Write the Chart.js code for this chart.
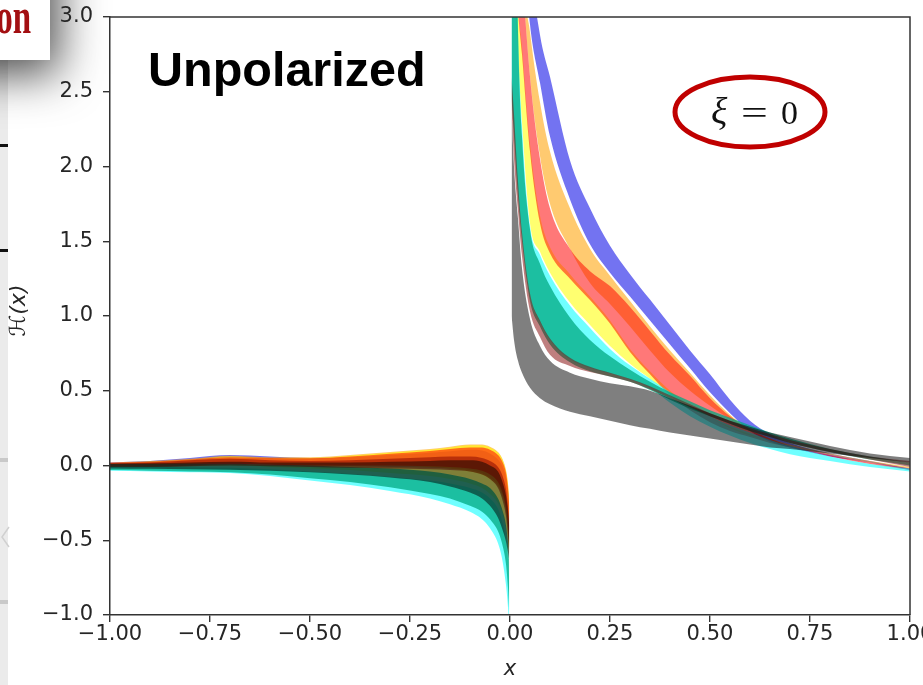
<!DOCTYPE html>
<html>
<head>
<meta charset="utf-8">
<script src="https://cdn.jsdelivr.net/npm/chart.js@4.4.1/dist/chart.umd.min.js"></script>
<style>
  html, body { margin: 0; padding: 0; background: #fff; overflow: hidden; }
  canvas { display: block; }
</style>
</head>
<body>
<canvas id="c" width="923" height="685"></canvas>
<script>
// x sample points of the two branches (x < 0 and x > 0)
const xLeft  = [-1.0, -0.9, -0.8, -0.7, -0.6, -0.5, -0.4, -0.3, -0.2, -0.15, -0.1, -0.07, -0.05, -0.03, -0.02, -0.01, -0.005, -0.002];
const xRight = [0.004, 0.01, 0.02, 0.03, 0.05, 0.075, 0.1, 0.15, 0.2, 0.25, 0.3, 0.35, 0.4, 0.45, 0.5, 0.55, 0.6, 0.65, 0.7, 0.8, 0.9, 1.0];

// lower / upper edges of each uncertainty band, x < 0
const blueLeftLo   = [-0.01, -0.01, 0.0, 0.01, 0.005, 0.0, -0.005, -0.01, -0.015, -0.02, -0.03, -0.05, -0.08, -0.13, -0.19, -0.3, -0.42, -0.55];
const blueLeftHi   = [0.02, 0.03, 0.05, 0.07, 0.06, 0.05, 0.055, 0.07, 0.085, 0.095, 0.105, 0.1, 0.08, 0.04, 0.0, -0.08, -0.17, -0.28];
const orangeLeftLo = [-0.005, 0.0, 0.01, 0.02, 0.01, 0.0, 0.0, 0.0, -0.01, -0.02, -0.04, -0.06, -0.09, -0.14, -0.2, -0.3, -0.42, -0.55];
const orangeLeftHi = [0.02, 0.03, 0.045, 0.065, 0.055, 0.055, 0.07, 0.09, 0.11, 0.125, 0.14, 0.14, 0.125, 0.09, 0.05, -0.03, -0.12, -0.22];
const yellowLeftLo = [-0.01, -0.01, -0.005, 0.0, -0.01, -0.02, -0.03, -0.05, -0.07, -0.09, -0.12, -0.15, -0.19, -0.25, -0.31, -0.42, -0.52, -0.62];
const yellowLeftHi = [0.015, 0.025, 0.04, 0.06, 0.05, 0.05, 0.065, 0.085, 0.105, 0.12, 0.135, 0.135, 0.12, 0.085, 0.045, -0.04, -0.13, -0.25];
const redLeftLo    = [-0.005, -0.005, 0.0, 0.01, 0.005, 0.0, 0.0, 0.0, -0.005, -0.01, -0.02, -0.035, -0.06, -0.11, -0.17, -0.28, -0.4, -0.52];
const redLeftHi    = [0.018, 0.025, 0.04, 0.055, 0.05, 0.048, 0.06, 0.078, 0.097, 0.11, 0.12, 0.12, 0.105, 0.07, 0.03, -0.05, -0.15, -0.26];
const cyanLeftLo   = [-0.035, -0.04, -0.045, -0.05, -0.07, -0.1, -0.13, -0.17, -0.22, -0.26, -0.31, -0.36, -0.42, -0.52, -0.62, -0.8, -0.95, -1.1];
const cyanLeftHi   = [-0.005, -0.008, -0.012, -0.015, -0.025, -0.04, -0.055, -0.075, -0.1, -0.12, -0.15, -0.18, -0.22, -0.29, -0.37, -0.5, -0.64, -0.78];
const tealLeftLo   = [-0.03, -0.035, -0.04, -0.045, -0.06, -0.085, -0.11, -0.145, -0.19, -0.22, -0.27, -0.31, -0.36, -0.44, -0.52, -0.66, -0.82, -0.98];
const tealLeftHi   = [0.01, 0.01, 0.012, 0.012, 0.005, 0.0, -0.01, -0.02, -0.04, -0.06, -0.09, -0.12, -0.15, -0.22, -0.29, -0.4, -0.52, -0.65];
const brownLeftLo  = [-0.01, -0.01, -0.005, 0.0, -0.005, -0.01, -0.015, -0.02, -0.025, -0.03, -0.04, -0.06, -0.09, -0.15, -0.22, -0.34, -0.47, -0.58];
const brownLeftHi  = [0.015, 0.02, 0.035, 0.045, 0.035, 0.03, 0.035, 0.045, 0.055, 0.06, 0.06, 0.05, 0.03, -0.01, -0.06, -0.16, -0.28, -0.4];
const blackLeftLo  = [-0.02, -0.022, -0.025, -0.028, -0.035, -0.045, -0.06, -0.08, -0.11, -0.14, -0.18, -0.22, -0.27, -0.35, -0.42, -0.51, -0.58, -0.63];
const blackLeftHi  = [0.012, 0.015, 0.02, 0.025, 0.02, 0.02, 0.02, 0.025, 0.03, 0.035, 0.035, 0.025, 0.0, -0.04, -0.1, -0.2, -0.3, -0.4];

// lower / upper edges of each uncertainty band, x > 0
const blueRightLo   = [9, 6.5, 4.5, 3.6, 2.95, 2.56, 2.2, 1.78, 1.48, 1.29, 1.13, 0.97, 0.81, 0.65, 0.49, 0.35, 0.23, 0.16, 0.12, 0.06, 0.02, -0.03];
const blueRightHi   = [10, 7.5, 5.3, 4.3, 3.4, 2.88, 2.6, 2.04, 1.72, 1.47, 1.28, 1.11, 0.94, 0.77, 0.61, 0.44, 0.3, 0.21, 0.15, 0.08, 0.03, -0.02];
const orangeRightLo = [7, 5, 3.7, 3.3, 2.6, 2.07, 1.75, 1.45, 1.22, 1.08, 0.93, 0.77, 0.62, 0.5, 0.4, 0.31, 0.23, 0.17, 0.13, 0.07, 0.02, -0.02];
const orangeRightHi = [8, 6, 4.4, 3.4, 2.9, 2.43, 2.1, 1.72, 1.45, 1.27, 1.1, 0.93, 0.77, 0.62, 0.47, 0.34, 0.24, 0.18, 0.14, 0.08, 0.03, -0.01];
const yellowRightLo = [5, 3.4, 2.75, 2.3, 1.62, 1.43, 1.29, 1.09, 0.94, 0.8, 0.68, 0.58, 0.48, 0.39, 0.32, 0.26, 0.21, 0.16, 0.12, 0.06, 0.01, -0.02];
const yellowRightHi = [6, 4, 3.1, 2.8, 2.15, 1.67, 1.46, 1.28, 1.13, 0.97, 0.78, 0.63, 0.5, 0.4, 0.32, 0.25, 0.2, 0.16, 0.12, 0.06, 0.01, -0.02];
const redRightLo    = [5, 3.6, 3.05, 2.75, 2.1, 1.62, 1.42, 1.25, 1.107, 0.95, 0.76, 0.61, 0.47, 0.37, 0.29, 0.23, 0.19, 0.15, 0.12, 0.06, 0.01, -0.03];
const redRightHi    = [7, 5, 3.7, 3.3, 2.6, 2.05, 1.72, 1.45, 1.3, 1.2, 1.06, 0.9, 0.74, 0.6, 0.45, 0.33, 0.24, 0.18, 0.13, 0.07, 0.02, -0.02];
const cyanRightLo   = [2.5, 2.25, 1.85, 1.55, 1.14, 0.96, 0.84, 0.71, 0.65, 0.615, 0.575, 0.52, 0.42, 0.33, 0.26, 0.2, 0.15, 0.11, 0.075, 0.03, -0.01, -0.04];
const cyanRightHi   = [8, 4.6, 2.95, 2.27, 1.6, 1.41, 1.27, 1.07, 0.92, 0.78, 0.67, 0.58, 0.49, 0.4, 0.33, 0.27, 0.22, 0.17, 0.13, 0.06, 0.01, -0.02];
const tealRightLo   = [2.45, 2.2, 1.8, 1.5, 1.1, 0.93, 0.81, 0.69, 0.63, 0.595, 0.56, 0.505, 0.44, 0.38, 0.33, 0.28, 0.23, 0.19, 0.15, 0.09, 0.04, 0.0];
const tealRightHi   = [8, 4.5, 2.9, 2.2, 1.58, 1.35, 1.2, 0.99, 0.84, 0.73, 0.64, 0.56, 0.49, 0.43, 0.37, 0.32, 0.27, 0.22, 0.18, 0.11, 0.06, 0.02];
const brownRightLo  = [2.38, 2.05, 1.7, 1.4, 1.03, 0.86, 0.74, 0.665, 0.625, 0.595, 0.56, 0.51, 0.45, 0.39, 0.33, 0.28, 0.23, 0.19, 0.15, 0.09, 0.04, -0.01];
const brownRightHi  = [2.6, 2.35, 1.9, 1.56, 1.15, 0.97, 0.85, 0.72, 0.66, 0.62, 0.58, 0.53, 0.47, 0.41, 0.35, 0.3, 0.25, 0.21, 0.17, 0.11, 0.06, 0.03];
const blackRightLo  = [1.0, 0.84, 0.7, 0.62, 0.52, 0.45, 0.41, 0.36, 0.33, 0.3, 0.27, 0.245, 0.22, 0.2, 0.18, 0.16, 0.14, 0.12, 0.11, 0.08, 0.05, 0.02];
const blackRightHi  = [2.37, 2.0, 1.65, 1.32, 0.98, 0.8, 0.7, 0.62, 0.58, 0.55, 0.53, 0.5, 0.45, 0.4, 0.35, 0.3, 0.26, 0.22, 0.19, 0.13, 0.08, 0.05];

// axis ticks
const xTicks = [-1.0, -0.75, -0.5, -0.25, 0.0, 0.25, 0.5, 0.75, 1.0];
const yTicks = [-1.0, -0.5, 0.0, 0.5, 1.0, 1.5, 2.0, 2.5, 3.0];

// bands listed from bottom-most to top-most
const bands = [
  { name: 'blue',   color: 'rgba(0,0,230,0.55)',    left: [blueLeftLo, blueLeftHi],     right: [blueRightLo, blueRightHi] },
  { name: 'orange', color: 'rgba(255,160,0,0.56)',  left: [orangeLeftLo, orangeLeftHi], right: [orangeRightLo, orangeRightHi] },
  { name: 'yellow', color: 'rgba(255,255,0,0.56)',  left: [yellowLeftLo, yellowLeftHi], right: [yellowRightLo, yellowRightHi] },
  { name: 'red',    color: 'rgba(255,0,0,0.53)',    left: [redLeftLo, redLeftHi],       right: [redRightLo, redRightHi] },
  { name: 'cyan',   color: 'rgba(0,255,255,0.56)',  left: [cyanLeftLo, cyanLeftHi],     right: [cyanRightLo, cyanRightHi] },
  { name: 'teal',   color: 'rgba(0,170,130,0.75)',  left: [tealLeftLo, tealLeftHi],     right: [tealRightLo, tealRightHi] },
  { name: 'brown',  color: 'rgba(128,0,0,0.5)',     left: [brownLeftLo, brownLeftHi],   right: [brownRightLo, brownRightHi] },
  { name: 'black',  color: 'rgba(0,0,0,0.5)',       left: [blackLeftLo, blackLeftHi],   right: [blackRightLo, blackRightHi] }
];

const pts = (xs, ys) => xs.map((x, i) => ({ x: x, y: ys[i] }));
const minus = s => s.replace('-', '\u2212');

const datasets = [];
bands.forEach((b, k) => {
  const order = bands.length - k;
  [[xLeft, b.left], [xRight, b.right]].forEach(([xs, edges]) => {
    const common = {
      borderWidth: 0, borderColor: 'rgba(0,0,0,0)', pointRadius: 0, pointHoverRadius: 0,
      cubicInterpolationMode: 'monotone', order: order
    };
    datasets.push(Object.assign({ label: b.name + ' lo', data: pts(xs, edges[0]), fill: false }, common));
    datasets.push(Object.assign({ label: b.name + ' hi', data: pts(xs, edges[1]), fill: '-1', backgroundColor: b.color }, common));
  });
});

// edge of the neighbouring slide and the title box with its shadow
const slideEdge = {
  id: 'slideEdge',
  beforeDraw(chart) {
    const ctx = chart.ctx;
    ctx.save();
    ctx.fillStyle = '#fff';
    ctx.fillRect(0, 0, chart.width, chart.height);
    ctx.fillStyle = '#ebebeb';
    ctx.fillRect(0, 60, 8, chart.height - 60);
    ctx.fillStyle = '#111';
    ctx.fillRect(0, 144, 8, 3);
    ctx.fillRect(0, 249, 8, 3);
    ctx.fillStyle = '#c9c9c9';
    ctx.fillRect(0, 458, 8, 4);
    ctx.fillRect(0, 600, 8, 4);
    ctx.strokeStyle = '#d0d0d0';
    ctx.lineWidth = 1.5;
    ctx.beginPath();
    ctx.moveTo(9, 527); ctx.lineTo(2, 537); ctx.lineTo(9, 547);
    ctx.stroke();
    ctx.shadowColor = 'rgba(0,0,0,0.72)';
    ctx.shadowBlur = 46;
    ctx.shadowOffsetX = 8;
    ctx.shadowOffsetY = 14;
    ctx.fillStyle = '#fff';
    ctx.fillRect(-80, -80, 130, 140);
    ctx.shadowColor = 'rgba(0,0,0,0)';
    ctx.fillStyle = '#a30f12';
    ctx.font = 'bold 50px "Liberation Serif"';
    ctx.textAlign = 'right';
    ctx.textBaseline = 'alphabetic';
    ctx.translate(31, 33);
    ctx.scale(0.66, 1);
    ctx.fillText('on', 0, 0);
    ctx.restore();
  }
};

// remaining frame sides and the in-plot annotations
const annotations = {
  id: 'annotations',
  afterDatasetsDraw(chart) {
    const ctx = chart.ctx;
    const a = chart.chartArea;
    ctx.save();
    ctx.strokeStyle = '#333';
    ctx.lineWidth = 1.5;
    ctx.beginPath();
    ctx.moveTo(a.left, a.top); ctx.lineTo(a.right, a.top); ctx.lineTo(a.right, a.bottom);
    ctx.stroke();

    ctx.fillStyle = '#000';
    ctx.font = 'bold 48.5px "Liberation Sans"';
    ctx.textAlign = 'left';
    ctx.textBaseline = 'alphabetic';
    ctx.fillText('Unpolarized', 148, 86);

    ctx.strokeStyle = '#c00000';
    ctx.lineWidth = 5;
    ctx.beginPath();
    ctx.ellipse(750, 112, 75, 35, 0, 0, Math.PI * 2);
    ctx.stroke();

    ctx.fillStyle = '#111';
    ctx.font = 'italic 38px "Liberation Serif"';
    ctx.fillText('\u03BE', 711, 124);
    ctx.font = '34px "Liberation Serif"';
    ctx.fillText('0', 781, 124);
    ctx.translate(741, 124);
    ctx.scale(1.4, 1);
    ctx.fillText('=', 0, 0);
    ctx.restore();
  }
};

const tickFont = { family: '"DejaVu Sans"', size: 21 };

new Chart(document.getElementById('c'), {
  type: 'line',
  data: { datasets: datasets },
  plugins: [slideEdge, annotations],
  options: {
    responsive: false,
    animation: false,
    devicePixelRatio: 1,
    layout: { padding: { top: 17, right: 13, bottom: 0, left: 0 } },
    plugins: { legend: { display: false }, tooltip: { enabled: false } },
    elements: { line: { tension: 0 } },
    scales: {
      x: {
        type: 'linear', min: -1, max: 1,
        afterBuildTicks: s => { s.ticks = xTicks.map(v => ({ value: v })); },
        afterFit: s => { s.height = 70; s.paddingLeft = 0; s.paddingRight = 0; },
        ticks: { font: tickFont, color: '#262626', padding: 0, maxRotation: 0, autoSkip: false,
                 callback: v => minus(Number(v).toFixed(2)) },
        grid: { drawOnChartArea: false, drawTicks: true, tickLength: 7, color: '#333', lineWidth: 1.4 },
        border: { display: true, color: '#333', width: 1.5, z: 1 },
        title: { display: true, text: 'x', color: '#262626',
                 font: { family: '"DejaVu Sans"', size: 21, style: 'italic' }, padding: { top: 0, bottom: 3 } }
      },
      y: {
        type: 'linear', min: -1, max: 3,
        afterBuildTicks: s => { s.ticks = yTicks.map(v => ({ value: v })); },
        afterFit: s => { s.width = 110; s.paddingTop = 0; s.paddingBottom = 0; },
        ticks: { font: tickFont, color: '#262626', padding: 10,
                 callback: v => minus(Number(v).toFixed(1)) },
        grid: { drawOnChartArea: false, drawTicks: true, tickLength: 7, color: '#333', lineWidth: 1.4 },
        border: { display: true, color: '#333', width: 1.5, z: 1 },
        title: { display: true, text: '\u2002\u210B(x)', color: '#262626',
                 font: { family: '"DejaVu Sans"', size: 22, style: 'italic' }, padding: { top: 6, bottom: 0 } }
      }
    }
  }
});
</script>
</body>
</html>
